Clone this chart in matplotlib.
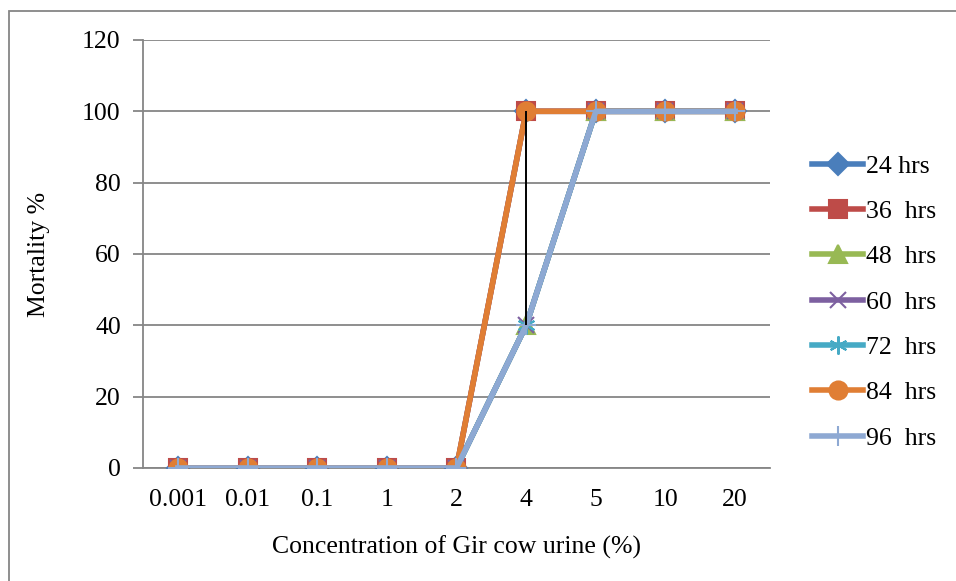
import matplotlib.pyplot as plt
import numpy as np
from matplotlib.lines import Line2D
from matplotlib.patches import Rectangle

# datos
concentraciones = ['0.001', '0.01', '0.1', '1', '2', '4', '5', '10', '20']
series_labels = ['24 hrs', '36  hrs', '48  hrs', '60  hrs', '72  hrs', '84  hrs', '96  hrs']
mort_24 = [0, 0, 0, 0, 0, 100, 100, 100, 100]
mort_36 = [0, 0, 0, 0, 0, 100, 100, 100, 100]
mort_48 = [0, 0, 0, 0, 0, 40, 100, 100, 100]
mort_60 = [0, 0, 0, 0, 0, 40, 100, 100, 100]
mort_72 = [0, 0, 0, 0, 0, 40, 100, 100, 100]
mort_84 = [0, 0, 0, 0, 0, 100, 100, 100, 100]
mort_96 = [0, 0, 0, 0, 0, 40, 100, 100, 100]
y_ticks = [0, 20, 40, 60, 80, 100, 120]

series = [mort_24, mort_36, mort_48, mort_60, mort_72, mort_84, mort_96]
colores = ['#4A7EBB', '#BE4B48', '#98B954', '#7D60A0', '#46AAC5', '#E07E34', '#8EA9D3']
marcadores = ['D', 's', '^', 'x', (6, 2, 0), 'o', '+']
tamanos = [11, 13.5, 13, 12, 13, 13, 14]

plt.rcParams['font.family'] = ['Liberation Serif', 'DejaVu Serif']
fs = 18.5

fig = plt.figure(figsize=(9.56, 5.81), dpi=100)
ax = fig.add_axes([0.1496, 0.1945, 0.6558, 0.7367])

x = np.arange(len(concentraciones))

# lineas de las series
for vals, lab, c, m, ms in zip(series, series_labels, colores, marcadores, tamanos):
    ax.plot(x, vals, color=c, lw=4, marker=m, markersize=ms,
            markeredgecolor=c, markeredgewidth=1.5, label=lab, zorder=3)

# lineas de maximo-minimo (estilo Excel)
datos = np.array(series)
ax.vlines(x, datos.min(axis=0), datos.max(axis=0), colors='black', lw=1.4, zorder=4)

ax.set_xlim(-0.5, len(concentraciones) - 0.5)
ax.set_ylim(0, 120)
ax.set_yticks(y_ticks)
ax.set_xticks(x)
ax.set_xticklabels(concentraciones)
ax.yaxis.grid(True, color='#868686', lw=1.3)
ax.set_axisbelow(True)

for s in ['top', 'right']:
    ax.spines[s].set_visible(False)
for s in ['left', 'bottom']:
    ax.spines[s].set_color('#868686')
    ax.spines[s].set_linewidth(1.3)
ax.tick_params(axis='y', length=7, width=1.3, color='#868686', labelsize=fs, pad=9)
ax.tick_params(axis='x', length=0, labelsize=fs, pad=15)

ax.set_xlabel('Concentration of Gir cow urine (%)', fontsize=fs, labelpad=18)
ax.set_ylabel('Mortality %', fontsize=fs, labelpad=23)

# leyenda
handles = [Line2D([0], [0], color=c, lw=4, marker=m, markersize=ms,
                  markeredgecolor=c, markeredgewidth=1.5)
           for c, m, ms in zip(colores, marcadores, tamanos)]
fig.legend(handles, series_labels, loc='center left', bbox_to_anchor=(0.836, 0.480),
           frameon=False, fontsize=fs, handlelength=2.0, handletextpad=0.1,
           labelspacing=0.87, borderpad=0)

# borde exterior del grafico
fig.patches.append(Rectangle((9 / 956, -0.1), 1.2, 1 - 11 / 581 + 0.1,
                             transform=fig.transFigure, fill=False,
                             edgecolor='#868686', lw=1.3))

plt.savefig('out.png', dpi=100)
plt.close()
